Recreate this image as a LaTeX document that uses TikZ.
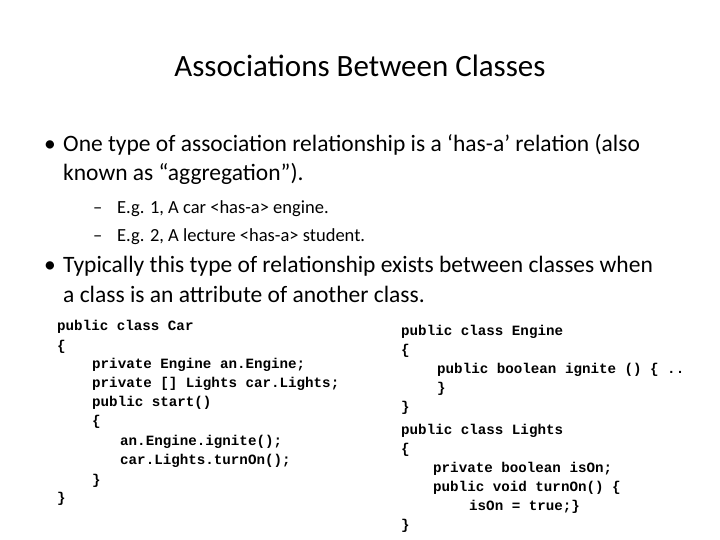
\documentclass[tikz,border=0pt]{standalone}
\usepackage{fontspec}
\setmainfont{Carlito}
\setmonofont{Liberation Mono}
\tikzset{
  txt/.style={anchor=base west, inner sep=0pt, font=\fontsize{23.5}{28}\selectfont},
  subtxt/.style={anchor=base west, inner sep=0pt, font=\fontsize{18.5}{22}\selectfont},
  code/.style={anchor=base west, inner sep=0pt, font=\ttfamily\bfseries\fontsize{14.2}{17}\selectfont},
}
\begin{document}
\begin{tikzpicture}[x=1pt,y=-1pt]
\useasboundingbox (0,0) rectangle (720,540);
% title
\node [anchor=base, inner sep=0pt, font=\fontsize{31}{36}\selectfont] (title) at (360,77) {Associations Between Classes};
% bullets
\node [txt] (b1dot) at (44,152) {•};
\node [txt] (b1) at (63,152) {One type of association relationship is a ‘has-a’ relation (also};
\node [txt] (b1c) at (63,181) {known as “aggregation”).};
\node [subtxt] (s1dash) at (93,214) {–};
\node [subtxt] (s1) at (117,214) {E.g. 1, A car <has-a> engine.};
\node [subtxt] (s2dash) at (93,241) {–};
\node [subtxt] (s2) at (117,241) {E.g. 2, A lecture <has-a> student.};
\node [txt] (b2dot) at (44,272) {•};
\node [txt] (b2) at (63,272) {Typically this type of relationship exists between classes when};
\node [txt] (b2c) at (63,302) {a class is an attribute of another class.};
% left code
\node [code] (c1) at (57,330) {public class Car};
\node [code] (c2) at (57,350) {\{};
\node [code] (c3) at (92,368) {private Engine an.Engine;};
\node [code] (c4) at (92,387) {private [] Lights car.Lights;};
\node [code] (c5) at (92,406) {public start()};
\node [code] (c6) at (92,425) {\{};
\node [code] (c7) at (120,445) {an.Engine.ignite();};
\node [code] (c8) at (120,464) {car.Lights.turnOn();};
\node [code] (c9) at (92,484) {\}};
\node [code] (c10) at (57,502) {\}};
% right code
\node [code] (e1) at (401,335) {public class Engine};
\node [code] (e2) at (401,354) {\{};
\node [code] (e3) at (437,373) {public boolean ignite () \{ ..};
\node [code] (e4) at (437,392) {\}};
\node [code] (e5) at (401,411) {\}};
\node [code] (l1) at (401,434) {public class Lights};
\node [code] (l2) at (401,453) {\{};
\node [code] (l3) at (433,472) {private boolean isOn;};
\node [code] (l4) at (433,491) {public void turnOn() \{};
\node [code] (l5) at (469,510) {isOn = true;\}};
\node [code] (l6) at (401,529) {\}};
\end{tikzpicture}
\end{document}
